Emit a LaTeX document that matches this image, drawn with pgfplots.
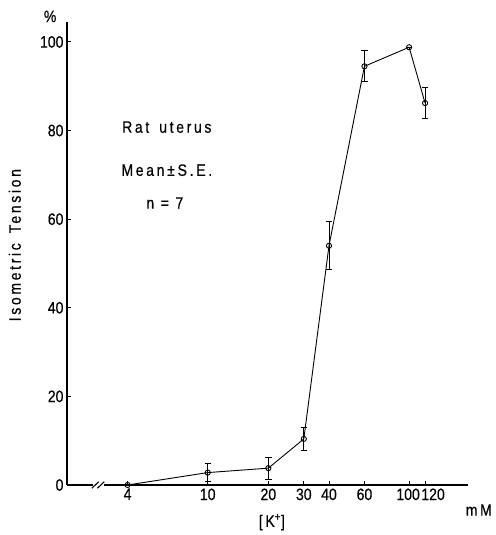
\documentclass[border=0pt]{standalone}
\usepackage{pgfplots}
\pgfplotsset{compat=1.18}
\usepackage{fontspec}
\setmainfont{Liberation Sans}[LetterSpace=16, FakeStretch=0.85, FakeBold=0.5]
\newfontfamily\tickfont{Liberation Sans}[FakeStretch=0.85, FakeBold=0.5]
\newcommand\lfs{\fontsize{16.5}{19}\selectfont}
\begin{document}
\begin{tikzpicture}
\begin{axis}[
  scale only axis,
  width=401pt, height=463pt,
  xmode=log,
  xmin=2, xmax=196,
  ymin=0, ymax=104.5,
  axis x line*=bottom,
  axis y line*=left,
  axis line style={line width=1.6pt},
  clip=false,
  xtick={4,10,20,30,40,60,100,120},
  xticklabels={4,10,20,30,40,60,\makebox[0pt]{100\hspace*{2pt}},\makebox[0pt]{\hspace*{16pt}120}},
  ytick={0,20,40,60,80,100},
  minor xtick={},
  tick align=inside,
  major tick length=4pt,
  tick style={line width=0.9pt, black},
  /pgf/number format/assume math mode=true,
  tick label style={font=\tickfont\lfs},
  label style={font=\lfs},
  xlabel={[K\textsuperscript{+}]},
  xlabel style={at={(axis description cs:0.511,-0.08)}, anchor=center},
  ylabel={Isometric\hspace{10pt}Tension},
  ylabel style={at={(axis description cs:-0.13,0.518)}, anchor=center},
]
\path (axis description cs:-0.167,-0.108) rectangle (axis description cs:1.062,1.0475);
% axis break
\fill[white] (rel axis cs:0.064,-0.006) rectangle (rel axis cs:0.092,0.006);
\draw[line width=1.1pt] (rel axis cs:0.062,-0.007) -- (rel axis cs:0.079,0.007);
\draw[line width=1.1pt] (rel axis cs:0.076,-0.007) -- (rel axis cs:0.093,0.007);
\addplot[black, line width=0.9pt, mark=o, mark size=2.6pt,
  mark options={fill=white, line width=0.9pt},
  error bars/.cd, y dir=both, y explicit,
  error bar style={line width=0.9pt},
  error mark options={rotate=90, mark size=3.2pt, line width=0.9pt}]
  coordinates {
  (4,0) +- (0,0)
  (10,2.8) +- (0,2.0)
  (20,3.8) +- (0,2.5)
  (30,10.4) +- (0,2.6)
  (40,54.0) +- (0,5.4)
  (60,94.5) +- (0,3.5)
  (100,98.8) +- (0,0)
  (120,86.2) +- (0,3.5)
  };
\node[font=\lfs] at (axis description cs:0.249,0.773) {Rat\hspace{10pt}uterus};
\node[font=\lfs] at (axis description cs:0.249,0.680) {Mean\,{\tickfont ±}\,S.\,E.};
\node[font=\lfs] at (axis description cs:0.244,0.609) {n = 7};
\node[font=\lfs] at (axis description cs:-0.042,1.012) {\%};
\node[font=\lfs] at (axis description cs:1.027,-0.054) {mM};
\end{axis}
\end{tikzpicture}
\end{document}
